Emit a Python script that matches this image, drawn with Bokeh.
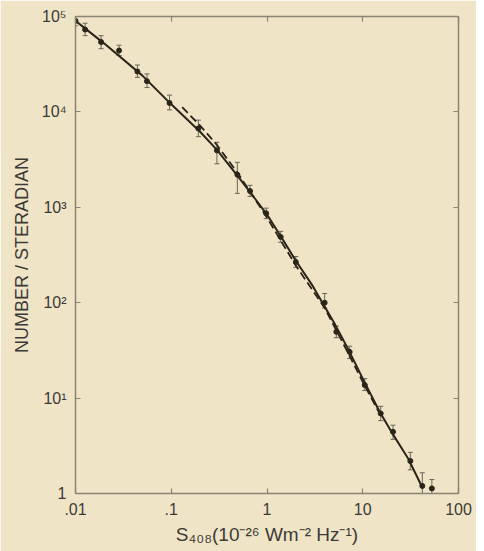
from bokeh.plotting import figure
from bokeh.models import LogAxis, FixedTicker, Whisker, ColumnDataSource, TeeHead, Range1d
from bokeh.embed import file_html
from bokeh.resources import INLINE

# measured source counts (flux density, number per steradian) with error limits
pt_x = [0.01, 0.0126, 0.0185, 0.0285, 0.0443, 0.0558, 0.096, 0.192, 0.30, 0.49,
        0.665, 0.98, 1.39, 2.0, 4.0, 5.3, 7.3, 10.5, 15.4, 20.7, 31.4, 41.9, 52.7]
pt_y = [9.0e4, 7.3e4, 5.4e4, 4.4e4, 2.65e4, 2.1e4, 1.24e4, 6.7e3, 3.95e3, 2.2e3,
        1.48e3, 865, 489, 267, 100, 49.5, 30.5, 13.7, 6.9, 4.43, 2.19, 1.2, 1.13]
pt_lo = [8.0e4, 6.3e4, 4.6e4, 3.9e4, 2.3e4, 1.8e4, 1.05e4, 5.5e3, 2.86e3, 1.4e3,
         1.3e3, 760, 430, 235, 88, 43, 26, 12, 5.8, 3.7, 1.77, 0.93, 0.91]
pt_hi = [1.0e5, 8.5e4, 6.3e4, 5.0e4, 3.1e4, 2.5e4, 1.5e4, 8.2e3, 4.8e3, 2.96e3,
         1.7e3, 980, 560, 305, 125, 57, 35, 16, 8.2, 5.2, 2.7, 1.65, 1.4]

# solid model curve
solid_x = [0.01, 0.02, 0.05, 0.1, 0.2, 0.3, 0.5, 0.7, 1, 1.5, 2, 3, 5, 7, 10, 15, 20, 30, 42]
solid_y = [9e4, 5.2e4, 2.4e4, 1.2e4, 6.2e3, 4.0e3, 2.1e3, 1.35e3, 840, 440, 275, 150,
           62, 33, 16, 7.2, 4.4, 2.3, 1.15]

# dashed model curve
dashed_x = [0.13, 0.2, 0.3, 0.5, 0.7, 1, 2, 4, 7, 10, 15]
dashed_y = [1.12e4, 7.2e3, 4.5e3, 2.25e3, 1.35e3, 780, 245, 88, 30, 14.8, 6.9]

x_ticks = [0.01, 0.1, 1, 10, 100]
x_labels = [".01", ".1", "1", "10", "100"]
y_ticks = [1, 10, 100, 1000, 10000, 100000]
y_labels = ["1", "10¹", "10²", "10³", "10⁴", "10⁵"]

bg = "#efe5c6"
ink = "#2a2419"
axc = "#8a8474"
txt = "#3c3a36"
font = "Liberation Sans"

p = figure(width=476, height=551, x_axis_type="log", y_axis_type="log",
           x_range=Range1d(0.01, 100), y_range=Range1d(1, 1e5),
           output_backend="svg", toolbar_location=None,
           min_border_left=75, min_border_right=18, min_border_top=16, min_border_bottom=58,
           background_fill_color=bg, border_fill_color=bg, outline_line_color=None)
p.grid.visible = False

def style(ax, ticks, labels, show):
    ax.ticker = FixedTicker(ticks=ticks)
    ax.major_label_overrides = {t: l for t, l in zip(ticks, labels)}
    ax.major_tick_in = 5
    ax.major_tick_out = 0
    ax.minor_tick_line_color = None
    ax.axis_line_color = axc
    ax.axis_line_width = 1.5
    ax.major_tick_line_color = axc
    ax.major_tick_line_width = 1.2
    ax.major_label_text_font = font
    ax.major_label_text_color = txt
    ax.major_label_text_font_size = "16px" if show else "0px"
    ax.major_label_standoff = 9 if show else 0

style(p.xaxis[0], x_ticks, x_labels, True)
style(p.yaxis[0], y_ticks, y_labels, True)
p.xaxis[0].axis_label = "S₄₀₈(10⁻²⁶ Wm⁻² Hz⁻¹)"
p.yaxis[0].axis_label = "NUMBER / STERADIAN"
for ax in (p.xaxis[0], p.yaxis[0]):
    ax.axis_label_text_font = font
    ax.axis_label_text_font_style = "normal"
    ax.axis_label_text_color = txt
p.xaxis[0].axis_label_text_font_size = "19px"
p.yaxis[0].axis_label_text_font_size = "18px"
p.xaxis[0].axis_label_standoff = 6
p.yaxis[0].axis_label_standoff = 7

top = LogAxis()
style(top, x_ticks, ["" for _ in x_labels], False)
p.add_layout(top, "above")
right = LogAxis()
style(right, y_ticks, ["" for _ in y_labels], False)
p.add_layout(right, "right")

p.line(solid_x, solid_y, line_color=ink, line_width=2)
p.line(dashed_x, dashed_y, line_color=ink, line_width=1.8, line_dash="8 4")

src = ColumnDataSource(dict(x=pt_x, y=pt_y, lo=pt_lo, hi=pt_hi))
p.add_layout(Whisker(base="x", lower="lo", upper="hi", source=src, dimension="height",
                     line_color="#6b6558", line_width=1,
                     upper_head=TeeHead(size=5, line_color="#6b6558", line_width=1),
                     lower_head=TeeHead(size=5, line_color="#6b6558", line_width=1)))
p.scatter("x", "y", source=src, size=5, marker="circle", fill_color=ink, line_color=ink)

open("out.html", "w").write(file_html(p, INLINE))
